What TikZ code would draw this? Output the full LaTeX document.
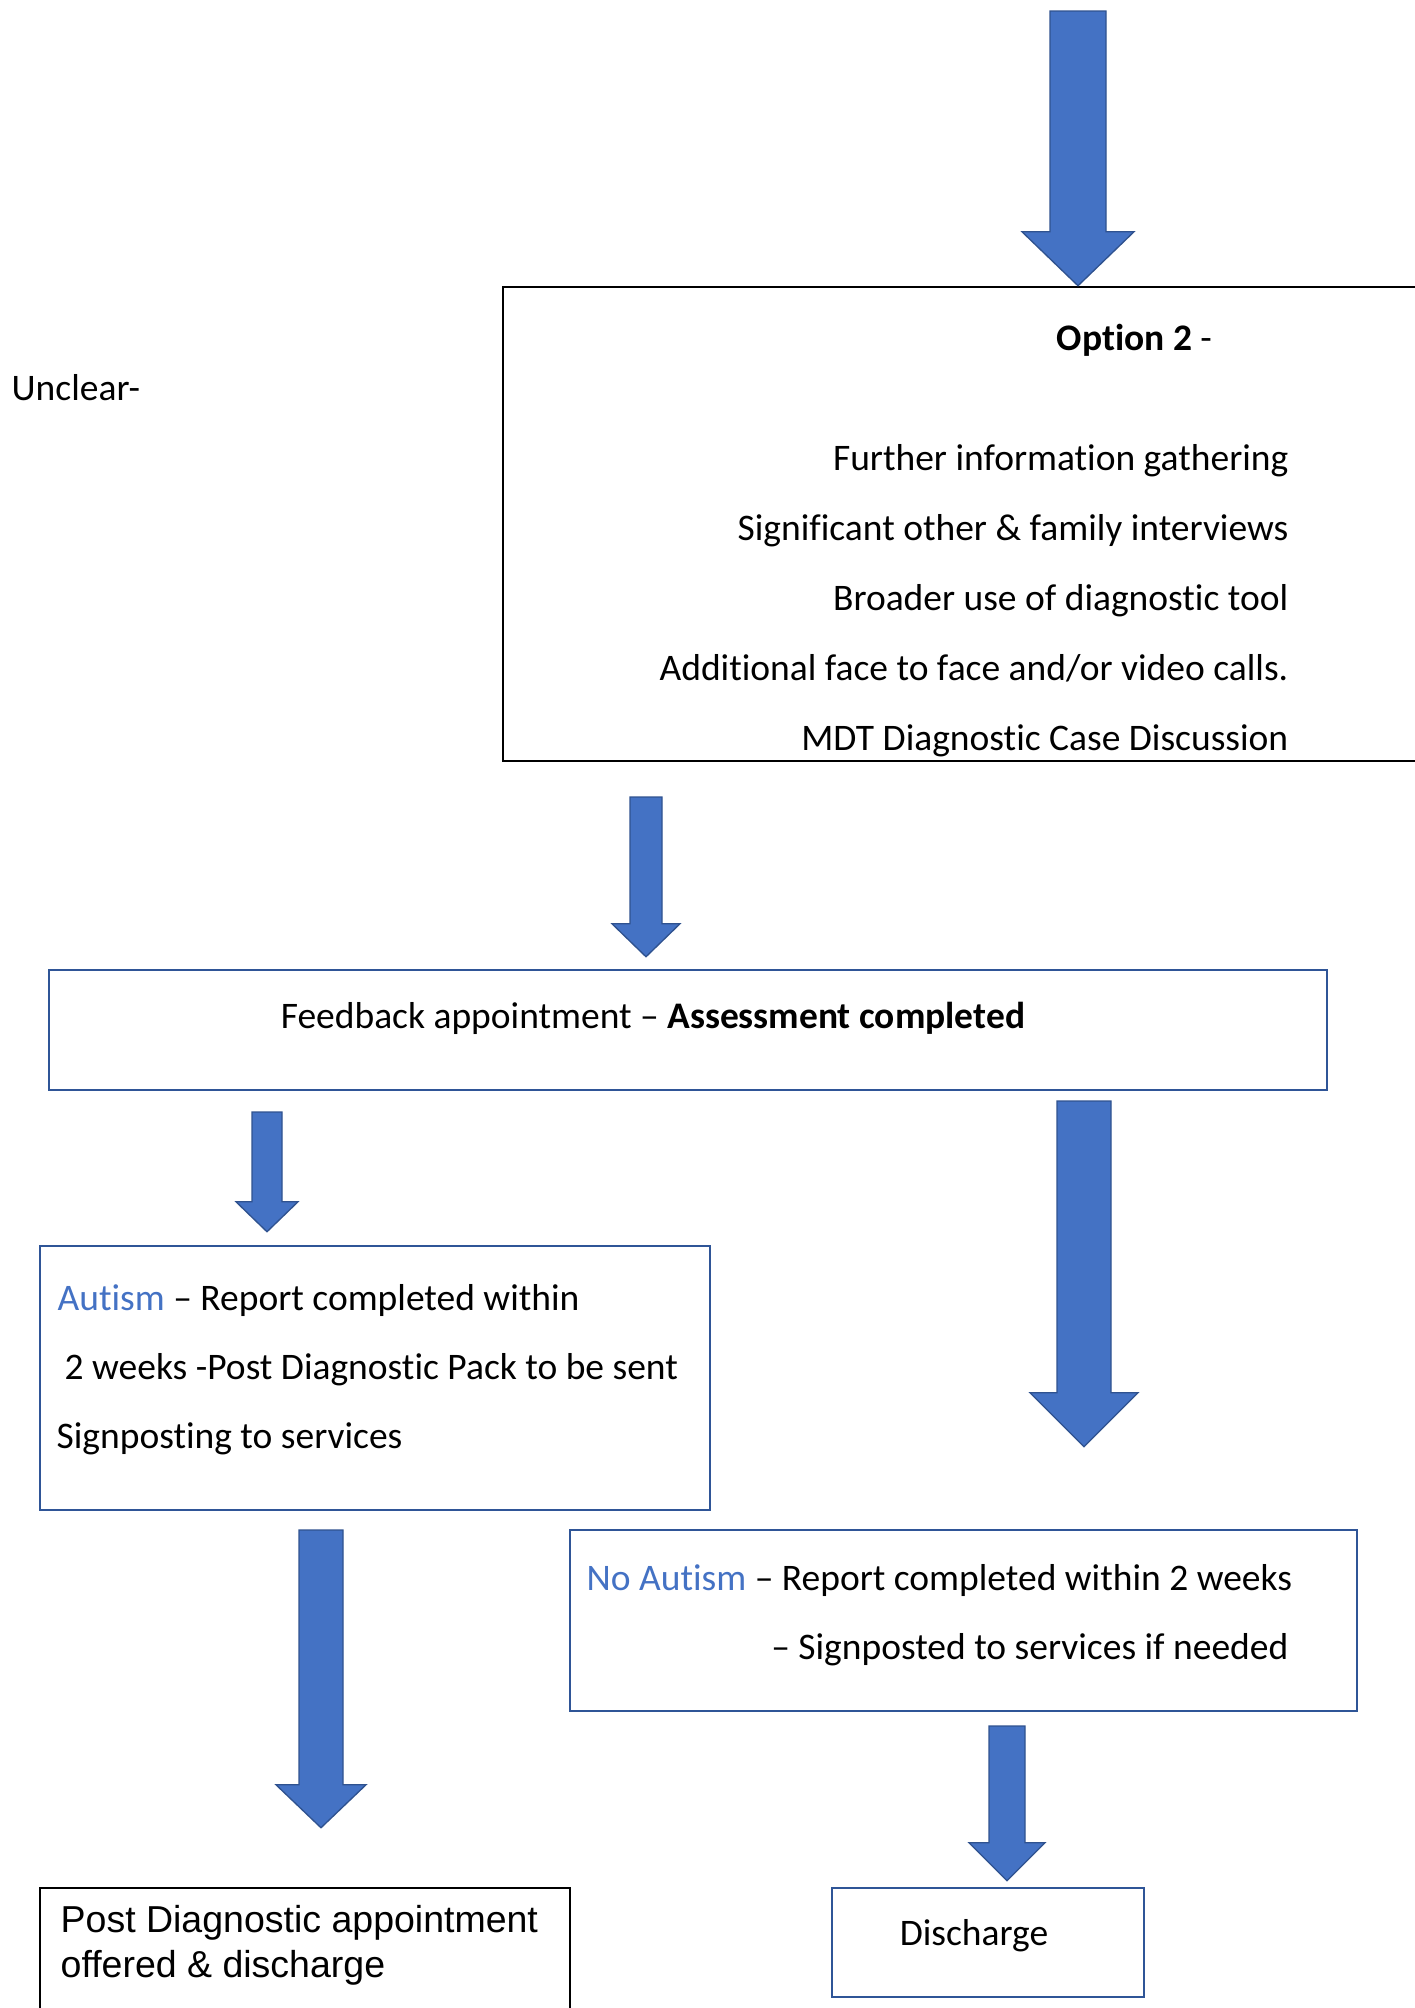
\documentclass[tikz,border=0pt]{standalone}
\usepackage{fontspec}
\setmainfont{Carlito}[Ligatures=NoCommon]
\newfontfamily\arialfont{Liberation Sans}
\usetikzlibrary{fit}
\definecolor{arrowblue}{HTML}{4472C4}
\definecolor{arrowedge}{HTML}{2F528F}
\definecolor{boxblue}{HTML}{2F5597}
\tikzset{
every node/.style={inner sep=0pt, font=\fontsize{11.25}{13}\selectfont},
box/.style={draw, line width=0.75pt, inner sep=0pt},
bluebox/.style={box, draw=boxblue},
blackbox/.style={box, draw=black},
arialtext/.style={font=\arialfont\fontsize{11.25}{13}\selectfont},
blockarrow/.style n args={3}{fill=arrowblue, draw=arrowedge, line width=0.4pt,
  to path={([shift={(-#1,0)}]\tikztostart) -- ([shift={(#1,0)}]\tikztostart)
    -- ([shift={(#1,-#3)}]\tikztotarget) -- ([shift={(#2,-#3)}]\tikztotarget)
    -- (\tikztotarget) -- ([shift={(-#2,-#3)}]\tikztotarget)
    -- ([shift={(-#1,-#3)}]\tikztotarget) -- cycle}},
}

\begin{document}
\begin{tikzpicture}[x=0.3pt, y=-0.3pt]
        \path[use as bounding box, clip] (0,0) rectangle (1415,2008);

        % boxes
        \node[blackbox, fit={(503,287) (1440,761)}] (opt) {};
        \node[bluebox, fit={(49,970) (1327,1090)}] (fb) {};
        \node[bluebox, fit={(40,1246) (710,1510)}] (aut) {};
        \node[bluebox, fit={(570,1530) (1357,1711)}] (noaut) {};
        \node[blackbox, fit={(40,1888) (570,2040)}] (post) {};
        \node[bluebox, fit={(832,1888) (1144,1997)}] (dis) {};

        % texts
        \node[anchor=base west] (unclear) at (11,400) {Unclear-};
        \node[anchor=base west] (opttitle) at (1056,350) {\textbf{Option 2} -};
        \foreach \t [count=\i] in {Further information gathering,
            Significant other \& family interviews,
            Broader use of diagnostic tool,
            Additional face to face and/or video calls.,
            MDT Diagnostic Case Discussion}
            \node[anchor=base east] (opt\i) at (1289,400+70*\i) {\t};
        \node[anchor=base] (fbtext) at (653,1028) {Feedback appointment – \textbf{Assessment completed}};
        \node[anchor=base west] (aut1) at (57,1310) {\textcolor{arrowblue}{Autism} – Report completed within};
        \node[anchor=base west] (aut2) at (64,1379) {2 weeks -Post Diagnostic Pack to be sent};
        \node[anchor=base west] (aut3) at (56,1448) {Signposting to services};
        \node[anchor=base west] (noaut1) at (586,1590) {\textcolor{arrowblue}{No Autism} – Report completed within 2 weeks};
        \node[anchor=base east] (noaut2) at (1289,1659) {– Signposted to services if needed};
        \node[anchor=base west, arialtext] (post1) at (60,1932) {Post Diagnostic appointment};
        \node[anchor=base west, arialtext] (post2) at (60,1977) {offered \& discharge};
        \node[anchor=base] (distext) at (974,1945) {Discharge};

        % arrows
        \coordinate (a1s) at (1078,11);
        \coordinate (a2s) at (646,797);
        \coordinate (a3s) at (267,1112);
        \coordinate (a4s) at (1084,1101);
        \coordinate (a5s) at (321,1530);
        \coordinate (a6s) at (1007,1726);
        \path[blockarrow={28}{56}{54}] (a1s) to (opt.north -| a1s);
        \path[blockarrow={16}{34}{33}] (a2s) to ([yshift=3.6pt]fb.north -| a2s);
        \path[blockarrow={15}{31}{30}] (a3s) to ([yshift=3.9pt]aut.north -| a3s);
        \path[blockarrow={27}{54}{54}] (a4s) to ([yshift=24.6pt]noaut.north -| a4s);
        \path[blockarrow={22}{45}{43}] (a5s) to ([yshift=17.7pt]post.north -| a5s);
        \path[blockarrow={18}{38}{38}] (a6s) to ([yshift=1.8pt]dis.north -| a6s);

    \end{tikzpicture}
\end{document}
